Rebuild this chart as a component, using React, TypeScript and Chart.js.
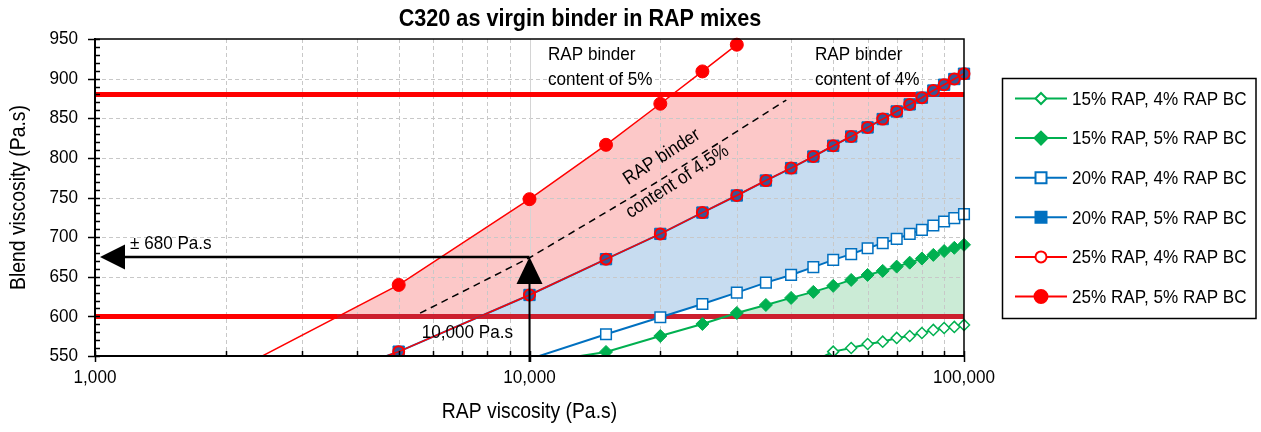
import React, { useEffect, useRef } from 'react';
import { Chart, registerables } from 'chart.js';

Chart.register(...registerables);

const FONT = '"Liberation Sans", Arial, Helvetica, sans-serif';
const SX = 0.9; // horizontal text condensation, as in the reference

// ---------- axes ----------
const xMin = 1000;
const xMax = 100000;
const xTickValues = [1000, 10000, 100000];
const xMinorTicks = [2000, 3000, 4000, 5000, 6000, 7000, 8000, 9000, 20000, 30000, 40000, 50000, 60000, 70000, 80000, 90000];
const yMin = 550;
const yMax = 950;
const yStep = 50;
const yMinorStep = 10;

// ---------- series (RAP viscosity, Pa.s -> blend viscosity, Pa.s) ----------
const rap15bc4X = [45000, 50000, 55000, 60000, 65000, 70000, 75000, 80000, 85000, 90000, 95000, 100000];
const rap15bc4Y = [543, 555.5, 560.1, 565.2, 568.1, 572.8, 575.3, 579.1, 582.9, 585.4, 586.7, 589.2];

const rap15bc5X = [10000, 15000, 20000, 25000, 30000, 35000, 40000, 45000, 50000, 55000, 60000, 65000, 70000, 75000, 80000, 85000, 90000, 95000, 100000];
const rap15bc5Y = [540, 555.1, 575.2, 590.4, 604.3, 614.4, 623.3, 630.9, 638.5, 646, 652.3, 657.4, 662.8, 667.8, 673, 677.6, 682.4, 686.5, 690.3];

const rap20bc4X = [10000, 15000, 20000, 25000, 30000, 35000, 40000, 45000, 50000, 55000, 60000, 65000, 70000, 75000, 80000, 85000, 90000, 95000, 100000];
const rap20bc4Y = [546, 577.4, 598.9, 615.7, 630, 642.6, 652.3, 662.1, 671.3, 678.5, 686, 692.4, 697.8, 704.1, 709.2, 714.6, 719.7, 724, 729];

const rap20bc5X = [1000, 5000, 10000, 15000, 20000, 25000, 30000, 35000, 40000, 45000, 50000, 55000, 60000, 65000, 70000, 75000, 80000, 85000, 90000, 95000, 100000];
const rap20bc5Y = [420, 555.5, 627, 672.2, 704.1, 731, 752.5, 771.4, 787.1, 801.7, 815.3, 827, 838.4, 849, 858.6, 867.5, 876, 885, 892.3, 899.5, 906.2];

const rap25bc4X = [1000, 5000, 10000, 15000, 20000, 25000, 30000, 35000, 40000, 45000, 50000, 55000, 60000, 65000, 70000, 75000, 80000, 85000, 90000, 95000, 100000];
const rap25bc4Y = [420, 555.5, 627, 672.2, 704.1, 731, 752.5, 771.4, 787.1, 801.7, 815.3, 827, 838.4, 849, 858.6, 867.5, 876, 885, 892.3, 899.5, 906.2];

const rap25bc5X = [1000, 5000, 10000, 15000, 20000, 25000, 30000];
const rap25bc5Y = [440, 639.7, 747.9, 816.5, 868.3, 909.1, 942.8];

// RAP binder content of 4.5% (dashed guide)
const bc45X = [5600, 10000, 20000, 39000];
const bc45Y = [604, 674, 772, 873];

// viscosity limits
const limitX = [1000, 100000];
const lowerLimitY = [600, 600];
const upperLimitY = [880, 880];
const lowerLimitInnerX = [3606, 100000];

const arrowLevel = 675;

const GREEN = '#00B050';
const BLUE = '#0070C0';
const RED = '#FF0000';

const legendItems = [
  { label: '15% RAP, 4% RAP BC', color: GREEN, shape: 'diamond', filled: false },
  { label: '15% RAP, 5% RAP BC', color: GREEN, shape: 'diamond', filled: true },
  { label: '20% RAP, 4% RAP BC', color: BLUE, shape: 'square', filled: false },
  { label: '20% RAP, 5% RAP BC', color: BLUE, shape: 'square', filled: true },
  { label: '25% RAP, 4% RAP BC', color: RED, shape: 'circle', filled: false },
  { label: '25% RAP, 5% RAP BC', color: RED, shape: 'circle', filled: true },
];

const pts = (xs: number[], ys: number[]) => xs.map((x, i) => ({ x, y: ys[i] }));
const visR = (r: number) => (c: any) => {
  const v = c.raw && c.raw.y;
  return v === undefined || v < yMin || v > yMax ? 0 : r;
};

function txt(
  ctx: CanvasRenderingContext2D,
  s: string,
  x: number,
  y: number,
  size: number,
  align: CanvasTextAlign = 'left',
  bold = false,
  rot = 0
) {
  ctx.save();
  ctx.translate(x, y);
  if (rot) ctx.rotate(rot);
  ctx.scale(SX, 1);
  ctx.font = `${bold ? 'bold ' : ''}${size}px ${FONT}`;
  ctx.textAlign = align;
  ctx.textBaseline = 'middle';
  ctx.fillStyle = '#000';
  ctx.fillText(s, 0, 0);
  ctx.restore();
}

function drawMarker(ctx: CanvasRenderingContext2D, shape: string, filled: boolean, color: string, cx: number, cy: number) {
  ctx.save();
  ctx.beginPath();
  if (shape === 'diamond') {
    const r = filled ? 6.5 : 5.5;
    ctx.moveTo(cx, cy - r);
    ctx.lineTo(cx + r, cy);
    ctx.lineTo(cx, cy + r);
    ctx.lineTo(cx - r, cy);
    ctx.closePath();
  } else if (shape === 'square') {
    const h = 5.5;
    ctx.rect(cx - h, cy - h, 2 * h, 2 * h);
  } else {
    ctx.arc(cx, cy, filled ? 6.5 : 5.5, 0, Math.PI * 2);
  }
  ctx.fillStyle = filled ? color : '#ffffff';
  ctx.fill();
  ctx.lineWidth = 2;
  ctx.strokeStyle = color;
  ctx.stroke();
  ctx.restore();
}

function fillBetween(chart: any, upperIdx: number, lowerIdx: number, color: string) {
  const { ctx, chartArea: a, scales } = chart;
  const up = chart.getDatasetMeta(upperIdx).data;
  const lo = chart.getDatasetMeta(lowerIdx).data;
  if (!up.length || !lo.length) return;
  const yTop = scales.y.getPixelForValue(upperLimitY[0]);
  const yBot = scales.y.getPixelForValue(lowerLimitY[0]);
  ctx.save();
  ctx.beginPath();
  ctx.rect(a.left, yTop, a.right - a.left, yBot - yTop);
  ctx.clip();
  ctx.beginPath();
  up.forEach((p: any, i: number) => (i ? ctx.lineTo(p.x, p.y) : ctx.moveTo(p.x, p.y)));
  const lu = up[up.length - 1];
  if (lu.x < a.right) ctx.lineTo(a.right + 2, lu.y);
  const ll = lo[lo.length - 1];
  if (ll.x < a.right) ctx.lineTo(a.right + 2, ll.y);
  for (let i = lo.length - 1; i >= 0; i--) ctx.lineTo(lo[i].x, lo[i].y);
  ctx.closePath();
  ctx.fillStyle = color;
  ctx.fill();
  ctx.restore();
}

const decorPlugin = {
  id: 'decor',
  beforeDatasetsDraw(chart: any) {
    const { ctx, chartArea: a, scales } = chart;
    const xs = scales.x;
    const ys = scales.y;
    // band fills
    fillBetween(chart, 7, 6, '#FCC8C8'); // 25% RAP 5% vs 4%
    fillBetween(chart, 5, 4, '#C7DCF0'); // 20% RAP 5% vs 4%
    fillBetween(chart, 3, 2, '#CBEBD6'); // 15% RAP 5% vs 4%
    // grid
    ctx.save();
    ctx.lineWidth = 1;
    ctx.strokeStyle = '#c8c8c8';
    ctx.setLineDash([4, 3]);
    for (let v = yMin + yStep; v < yMax; v += yStep) {
      const py = Math.round(ys.getPixelForValue(v)) + 0.5;
      ctx.beginPath();
      ctx.moveTo(a.left, py);
      ctx.lineTo(a.right, py);
      ctx.stroke();
    }
    xMinorTicks.forEach((v) => {
      const px = Math.round(xs.getPixelForValue(v)) + 0.5;
      ctx.beginPath();
      ctx.moveTo(px, a.top);
      ctx.lineTo(px, a.bottom);
      ctx.stroke();
    });
    ctx.setLineDash([]);
    ctx.strokeStyle = '#d4d4d4';
    const mx = Math.round(xs.getPixelForValue(10000)) + 0.5;
    ctx.beginPath();
    ctx.moveTo(mx, a.top);
    ctx.lineTo(mx, a.bottom);
    ctx.stroke();
    ctx.restore();
  },
  afterDatasetsDraw(chart: any) {
    const { ctx, chartArea: a, scales } = chart;
    const xs = scales.x;
    const ys = scales.y;
    ctx.save();
    // plot border / axes
    ctx.strokeStyle = '#000';
    ctx.lineWidth = 1.5;
    ctx.beginPath();
    ctx.moveTo(a.left, a.top);
    ctx.lineTo(a.right, a.top);
    ctx.lineTo(a.right, a.bottom);
    ctx.stroke();
    ctx.lineWidth = 2;
    ctx.beginPath();
    ctx.moveTo(a.left, a.top - 1);
    ctx.lineTo(a.left, a.bottom);
    ctx.lineTo(a.right + 1, a.bottom);
    ctx.stroke();
    // y ticks
    ctx.lineWidth = 1.5;
    for (let v = yMin; v <= yMax; v += yMinorStep) {
      const py = Math.round(ys.getPixelForValue(v)) + 0.5;
      const major = (v - yMin) % yStep === 0;
      ctx.beginPath();
      ctx.moveTo(a.left - (major ? 7 : 0), py);
      ctx.lineTo(a.left + 5, py);
      ctx.stroke();
    }
    // x ticks
    xMinorTicks.forEach((v) => {
      const px = Math.round(xs.getPixelForValue(v)) + 0.5;
      ctx.beginPath();
      ctx.moveTo(px, a.bottom);
      ctx.lineTo(px, a.bottom - 5);
      ctx.stroke();
    });
    xTickValues.forEach((v) => {
      const px = Math.round(xs.getPixelForValue(v)) + 0.5;
      ctx.beginPath();
      ctx.moveTo(px, a.bottom - 5);
      ctx.lineTo(px, a.bottom + 6);
      ctx.stroke();
    });

    // arrows
    const ax = xs.getPixelForValue(10000);
    const ay = ys.getPixelForValue(arrowLevel);
    const tipX = xs.getPixelForValue(1027);
    ctx.fillStyle = '#000';
    ctx.lineWidth = 2.5;
    ctx.beginPath();
    ctx.moveTo(tipX + 20, ay);
    ctx.lineTo(ax, ay);
    ctx.stroke();
    ctx.beginPath();
    ctx.moveTo(tipX, ay);
    ctx.lineTo(tipX + 25, ay - 12.5);
    ctx.lineTo(tipX + 25, ay + 12.5);
    ctx.closePath();
    ctx.fill();
    ctx.lineWidth = 2;
    ctx.beginPath();
    ctx.moveTo(ax, a.bottom + 6);
    ctx.lineTo(ax, ay + 20);
    ctx.stroke();
    ctx.beginPath();
    ctx.moveTo(ax, ay);
    ctx.lineTo(ax - 13, ay + 27);
    ctx.lineTo(ax + 13, ay + 27);
    ctx.closePath();
    ctx.fill();

    // annotation texts (anchored in data coordinates)
    const at = (xv: number, yv: number, s: string, rot = 0, align: CanvasTextAlign = 'left') =>
      txt(ctx, s, xs.getPixelForValue(xv), ys.getPixelForValue(yv), 19, align, false, rot);
    at(11030, 930, 'RAP binder');
    at(11030, 898.6, 'content of 5%');
    at(45400, 930, 'RAP binder');
    at(45400, 898.6, 'content of 4%');
    at(1204, 692, '\u00B1 680 Pa.s');
    at(5650, 579, '10,000 Pa.s');
    const r = (-33 * Math.PI) / 180;
    at(20150, 801, 'RAP binder', r, 'center');
    at(21900, 770, 'content of 4.5%', r, 'center');
    ctx.restore();
  },
  afterDraw(chart: any) {
    const { ctx, chartArea: a, scales } = chart;
    const xs = scales.x;
    const ys = scales.y;
    ctx.save();
    // tick labels
    for (let v = yMin; v <= yMax; v += yStep) {
      txt(ctx, String(v), a.left - 17, ys.getPixelForValue(v), 19, 'right');
    }
    xTickValues.forEach((v) => {
      txt(ctx, v.toLocaleString('en-US'), xs.getPixelForValue(v), 378, 19, 'center');
    });
    // title
    txt(ctx, 'C320 as virgin binder in RAP mixes', 580, 19, 24, 'center', true);
    // axis titles
    txt(ctx, 'RAP viscosity (Pa.s)', (a.left + a.right) / 2, 412, 21.5, 'center');
    txt(ctx, 'Blend viscosity (Pa.s)', 19, (a.top + a.bottom) / 2, 21.5, 'center', false, -Math.PI / 2);
    // legend
    const lx = 1002.5, ly = 78.5, lw = 253.5, lh = 240;
    ctx.lineWidth = 1.5;
    ctx.strokeStyle = '#000';
    ctx.strokeRect(lx, ly, lw, lh);
    legendItems.forEach((it, i) => {
      const cy = 98.5 + i * 39.6;
      ctx.strokeStyle = it.color;
      ctx.lineWidth = 2;
      ctx.beginPath();
      ctx.moveTo(1015, cy);
      ctx.lineTo(1067, cy);
      ctx.stroke();
      drawMarker(ctx, it.shape, it.filled, it.color, 1041, cy);
      txt(ctx, it.label, 1072, cy + 1, 19, 'left');
    });
    ctx.restore();
  },
};

export default function App() {
  const ref = useRef<HTMLCanvasElement | null>(null);
  useEffect(() => {
    document.body.style.margin = '0';
    const canvas = ref.current;
    if (!canvas) return;
    const clip = { left: 0, top: 3, right: 10, bottom: 1 };
    const chart = new Chart(canvas, {
      type: 'line',
      data: {
        datasets: [
          { label: 'Upper limit', data: pts(limitX, upperLimitY), borderColor: RED, borderWidth: 5, pointRadius: 0, order: 20, clip } as any,
          { label: 'Lower limit', data: pts(limitX, lowerLimitY), borderColor: RED, borderWidth: 5, pointRadius: 0, order: 19, clip } as any,
          { label: '15% RAP, 4% RAP BC', data: pts(rap15bc4X, rap15bc4Y), borderColor: GREEN, borderWidth: 2, pointStyle: 'rectRot', pointRadius: visR(5.5), pointBackgroundColor: '#ffffff', pointBorderColor: GREEN, pointBorderWidth: 1.5, order: 8, clip },
          { label: '15% RAP, 5% RAP BC', data: pts(rap15bc5X, rap15bc5Y), borderColor: GREEN, borderWidth: 2, pointStyle: 'rectRot', pointRadius: visR(6.5), pointBackgroundColor: GREEN, pointBorderColor: GREEN, pointBorderWidth: 1, order: 7, clip },
          { label: '20% RAP, 4% RAP BC', data: pts(rap20bc4X, rap20bc4Y), borderColor: BLUE, borderWidth: 2, pointStyle: 'rect', pointRadius: visR(7.5), pointBackgroundColor: '#ffffff', pointBorderColor: BLUE, pointBorderWidth: 1.5, order: 6, clip },
          { label: '20% RAP, 5% RAP BC', data: pts(rap20bc5X, rap20bc5Y), borderColor: BLUE, borderWidth: 2, pointStyle: 'rect', pointRadius: visR(8), pointBackgroundColor: BLUE, pointBorderColor: BLUE, pointBorderWidth: 1, order: 5, clip },
          { label: '25% RAP, 4% RAP BC', data: pts(rap25bc4X, rap25bc4Y), borderColor: RED, borderWidth: 1.5, pointStyle: 'circle', pointRadius: visR(5.5), pointBackgroundColor: 'rgba(255,0,0,0.22)', pointBorderColor: RED, pointBorderWidth: 2, order: 4, clip },
          { label: '25% RAP, 5% RAP BC', data: pts(rap25bc5X, rap25bc5Y), borderColor: RED, borderWidth: 1.5, pointStyle: 'circle', pointRadius: visR(6.5), pointBackgroundColor: RED, pointBorderColor: RED, pointBorderWidth: 1, order: 3, clip },
          { label: 'Lower limit (inner)', data: pts(lowerLimitInnerX, lowerLimitY), borderColor: '#CC1F2E', borderWidth: 5, pointRadius: 0, order: 18, clip } as any,
          { label: 'RAP binder content of 4.5%', data: pts(bc45X, bc45Y), borderColor: '#000', borderWidth: 1.5, borderDash: [7, 5], pointRadius: 0, order: 2, clip } as any,
        ],
      },
      options: {
        responsive: false,
        animation: false,
        devicePixelRatio: 1,
        events: [],
        layout: { padding: { top: 39, right: 297, left: 0, bottom: 0 } },
        elements: { line: { tension: 0, fill: false } },
        plugins: { legend: { display: false }, tooltip: { enabled: false }, title: { display: false } },
        scales: {
          x: {
            type: 'logarithmic',
            min: xMin,
            max: xMax,
            grid: { display: false, drawTicks: false },
            border: { display: false },
            ticks: { display: false },
            afterBuildTicks: (s: any) => {
              s.ticks = xTickValues.map((v) => ({ value: v }));
            },
            afterFit: (s: any) => {
              s.height = 76;
            },
          },
          y: {
            type: 'linear',
            min: yMin,
            max: yMax,
            grid: { display: false, drawTicks: false },
            border: { display: false },
            ticks: { display: false, stepSize: yStep },
            afterFit: (s: any) => {
              s.width = 95;
            },
          },
        },
      } as any,
      plugins: [decorPlugin as any],
    });
    return () => chart.destroy();
  }, []);
  return <canvas ref={ref} width={1261} height={432} style={{ display: 'block' }} />;
}
